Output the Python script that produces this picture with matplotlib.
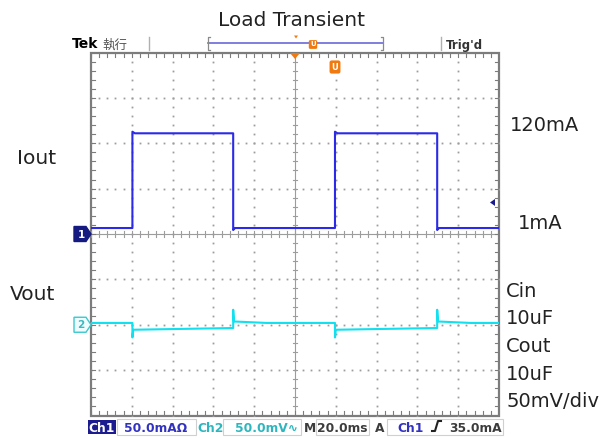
import matplotlib
matplotlib.use("Agg")
import matplotlib.pyplot as plt
from matplotlib.patches import Polygon, Rectangle
import numpy as np

# ---- waveform data ----------------------------------------------------------
# Ch1: load current (mA), Ch2: output voltage deviation (mV), time in ms
iout_time_ms = [0, 20.3, 20.3, 21.5, 69.7, 69.7, 70.6, 119.6, 119.6, 120.8,
                169.7, 169.7, 170.6, 200]
iout_mA = [1, 1, 122, 120, 120, -1.5, 1, 1, 122, 120, 120, -1.5, 1, 1]

vout_time_ms = [0, 20.3, 20.3, 20.7, 69.7, 69.7, 70.1, 86, 119.6, 119.6,
                120.0, 169.7, 169.7, 170.1, 186, 200]
vout_mV = [2, 2, -14, -5.5, -3.6, 16.5, 3.6, 2, 2, -14, -5.5, -3.6, 16.5,
           3.6, 2, 2]

trigger_level_mA = 35.0

# channel display settings
TIME_MS_PER_DIV = 20.0
CH1_MA_PER_DIV = 57.0
CH1_CENTER_MA = -6.5          # current shown on the centre graticule line
CH2_MV_PER_DIV = 50.0
CH2_POS_DIV = -2.0

# text annotations
title_text = "Load Transient"
left_labels = ["Iout", "Vout"]
right_labels = ["120mA", "1mA", "Cin", "10uF", "Cout", "10uF", "50mV/div"]

# ---- figure / geometry ------------------------------------------------------
W, H = 603, 438
fig = plt.figure(figsize=(W / 100, H / 100), dpi=100)
fig.patch.set_facecolor("white")

SL, SR, ST, SB = 91.0, 499.0, 52.5, 415.5   # screen box in pixels
ax = fig.add_axes([SL / W, 1 - SB / H, (SR - SL) / W, (SB - ST) / H])
ax.set_xlim(0, 10 * TIME_MS_PER_DIV)
ax.set_ylim(-4, 4)
ax.set_xticks([])
ax.set_yticks([])
for s in ax.spines.values():
    s.set_visible(False)

ov = fig.add_axes([0, 0, 1, 1], zorder=5)
ov.set_xlim(0, W)
ov.set_ylim(H, 0)
ov.axis("off")
ov.patch.set_alpha(0)

def div_to_py(d):
    return (ST + SB) / 2 - d * (SB - ST) / 8

def ms_to_px(t):
    return SL + t / (10 * TIME_MS_PER_DIV) * (SR - SL)

GRID = "#9c9c9c"
BORDER = "#7c7c7c"

# dotted graticule
xs_major = np.arange(1, 10) * TIME_MS_PER_DIV
ys_major = np.arange(-3, 4)
fine_y = np.arange(-4, 4.01, 0.2)
fine_x = np.arange(0, 200.01, TIME_MS_PER_DIV / 5)
for xm in xs_major:
    if xm == 100:
        continue
    ax.plot(np.full_like(fine_y, xm), fine_y, ls="none", marker="s", ms=1.3,
            mew=0, color=GRID)
for ym in ys_major:
    if ym == 0:
        continue
    ax.plot(fine_x, np.full_like(fine_x, ym), ls="none", marker="s", ms=1.3,
            mew=0, color=GRID)

# centre cross with minor ticks
ax.axhline(0, color=GRID, lw=0.8)
ax.axvline(100, color=GRID, lw=0.8)
for xx in fine_x:
    ax.plot([xx, xx], [-0.07, 0.07], color=GRID, lw=0.8)
for yy in fine_y:
    ax.plot([98.8, 101.2], [yy, yy], color=GRID, lw=0.8)

# border minor ticks
for xx in fine_x:
    ax.plot([xx, xx], [4, 3.9], color=BORDER, lw=0.8)
    ax.plot([xx, xx], [-4, -3.9], color=BORDER, lw=0.8)
for yy in fine_y:
    ax.plot([0, 1.8], [yy, yy], color=BORDER, lw=0.8)
    ax.plot([200, 198.2], [yy, yy], color=BORDER, lw=0.8)
ax.add_patch(Rectangle((0, -4), 200, 8, fill=False, ec=BORDER, lw=1.6,
                       clip_on=False))

# traces
ch1_div = [(v - CH1_CENTER_MA) / CH1_MA_PER_DIV for v in iout_mA]
ch2_div = [CH2_POS_DIV + v / CH2_MV_PER_DIV for v in vout_mV]
ax.plot(iout_time_ms, ch1_div, color="#2a2ae8", lw=1.5, zorder=4)
ax.plot(vout_time_ms, ch2_div, color="#12e0ee", lw=1.5, zorder=4)

# ---- channel / trigger markers ---------------------------------------------
def chan_marker(py, label, fc, ec, tc):
    poly = Polygon([(74, py - 7.5), (86, py - 7.5), (91, py), (86, py + 7.5),
                    (74, py + 7.5)], closed=True, fc=fc, ec=ec, lw=1)
    ov.add_patch(poly)
    ov.text(81, py + 0.5, label, color=tc, fontsize=7.5, fontweight="bold",
            ha="center", va="center", family="DejaVu Sans")

chan_marker(div_to_py(0), "1", "#141a80", "#141a80", "white")
chan_marker(div_to_py(CH2_POS_DIV), "2", "#eefcfd", "#3cc8cf", "#3cb8c0")

# trigger level arrow (right edge)
tpy = div_to_py((trigger_level_mA - CH1_CENTER_MA) / CH1_MA_PER_DIV)
ov.add_patch(Polygon([(490, tpy + 1.5), (495, tpy - 2), (495, tpy + 5)],
                     closed=True, fc="#1a1a90", ec="none"))

# trigger position marker on top border
ORANGE = "#f07a10"
cx = ms_to_px(100)
ov.add_patch(Polygon([(cx - 5, 53), (cx + 5, 53), (cx, 59)], closed=True,
                     fc=ORANGE, ec="none"))
ov.text(335, 67, "U", color="white", fontsize=6, fontweight="bold",
        ha="center", va="center", family="DejaVu Sans",
        bbox=dict(boxstyle="round,pad=0.25", fc=ORANGE, ec="none"))

# ---- header bar -------------------------------------------------------------
ov.text(72, 48.5, "Tek", fontsize=10, fontweight="bold", color="black",
        family="DejaVu Sans", va="baseline")
ov.text(102, 48.5, "執行", fontsize=9, color="#555555",
        family=["Noto Sans CJK TC", "DejaVu Sans"], va="baseline")
ov.plot([149, 149], [37, 50], color="#b0b0b0", lw=1)
ov.plot([441, 441], [37, 50], color="#b0b0b0", lw=1)
ov.plot([208, 383], [43, 43], color="#6a6ad8", lw=1.2)
for bx, d in ((208, 2), (383, -2)):
    ov.plot([bx + d, bx, bx, bx + d], [37, 37, 50, 50], color="#8a8a8a", lw=0.9)
ov.add_patch(Polygon([(294, 35.5), (298, 35.5), (296, 38.5)], closed=True,
                     fc=ORANGE, ec="none"))
ov.text(313, 44.5, "U", color="white", fontsize=5, fontweight="bold",
        ha="center", va="center", family="DejaVu Sans",
        bbox=dict(boxstyle="round,pad=0.2", fc=ORANGE, ec="none"))
ov.text(446, 48.5, "Trig'd", fontsize=8.5, fontweight="bold", color="#333333",
        family="DejaVu Sans", va="baseline")

# ---- annotations ------------------------------------------------------------
TXT = "#222222"
LBL_FONT = "DejaVu Sans"
ov.text(291, 26, title_text, fontsize=14.5, color=TXT, ha="center",
        va="baseline", family=LBL_FONT)
ov.text(17, 164, left_labels[0], fontsize=14.5, color=TXT, va="baseline",
        family=LBL_FONT)
ov.text(10, 300.5, left_labels[1], fontsize=14.5, color=TXT, va="baseline",
        family=LBL_FONT)
right_pos = [(510, 131), (518, 229), (506, 297), (506, 324), (506, 352),
             (506, 380), (506, 407)]
for (x, y), s in zip(right_pos, right_labels):
    ov.text(x, y, s, fontsize=14, color=TXT, va="baseline", family=LBL_FONT)

# ---- bottom readout bar -----------------------------------------------------
BLUE = "#3232c0"
CYAN = "#2eb6be"
DARK = "#3c3c3c"
FS = 8.8
yb = 432
ov.add_patch(Rectangle((88, 420), 28, 13.5, fc="#1c1c90", ec="none"))
ov.text(102, yb, "Ch1", color="white", fontsize=FS, fontweight="bold",
        ha="center", va="baseline", family="DejaVu Sans")
for x0, x1 in ((117, 196), (223, 301), (316, 369), (387, 503)):
    ov.add_patch(Rectangle((x0, 419), x1 - x0, 15.5, fill=False,
                           ec="#d0d0d0", lw=0.8))
ov.text(124, yb, "50.0mAΩ", color=BLUE, fontsize=FS, fontweight="bold",
        va="baseline", family="DejaVu Sans")
ov.text(197, yb, "Ch2", color=CYAN, fontsize=FS, fontweight="bold",
        va="baseline", family="DejaVu Sans")
ov.text(235, yb, "50.0mV∿", color=CYAN, fontsize=FS, fontweight="bold",
        va="baseline", family=["DejaVu Sans", "Noto Sans"])
ov.text(304, yb, "M", color=DARK, fontsize=FS, fontweight="bold",
        va="baseline", family="DejaVu Sans")
ov.text(317, yb, "20.0ms", color=DARK, fontsize=FS, fontweight="bold",
        va="baseline", family="DejaVu Sans")
ov.text(375, yb, "A", color=DARK, fontsize=FS, fontweight="bold",
        va="baseline", family="DejaVu Sans")
ov.text(397, yb, "Ch1", color=BLUE, fontsize=FS, fontweight="bold",
        va="baseline", family="DejaVu Sans")
ov.plot([432, 435, 438, 441], [431, 431, 421, 421], color="#222222", lw=1.5)
ov.text(449, yb, "35.0mA", color=DARK, fontsize=FS, fontweight="bold",
        va="baseline", family="DejaVu Sans")

fig.savefig("out.png", dpi=100, facecolor="white")
